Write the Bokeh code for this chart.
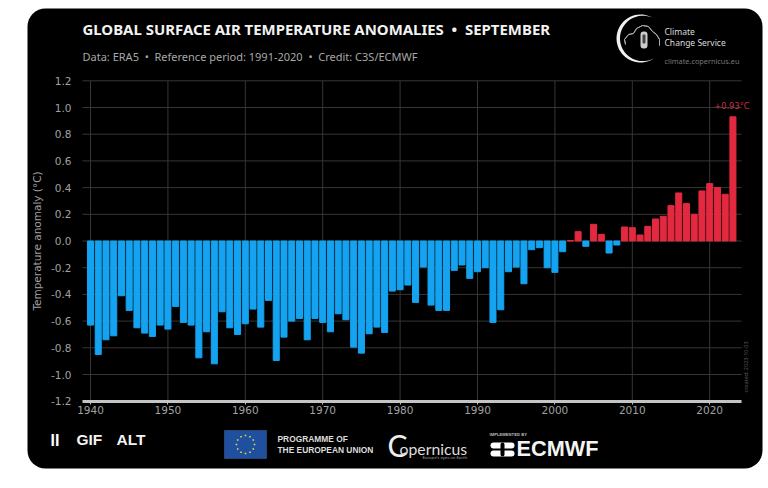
import math
from bokeh.embed import file_html
from bokeh.models import BoxAnnotation, ColumnDataSource, FixedTicker, Label, LinearAxis, NumeralTickFormatter, PolyAnnotation, Range1d
from bokeh.plotting import figure
from bokeh.resources import INLINE

years = list(range(1940, 2024))
anomalies = [
    -0.63, -0.85, -0.74, -0.71, -0.41, -0.52, -0.65, -0.69, -0.715, -0.63,
    -0.66, -0.49, -0.61, -0.63, -0.875, -0.68, -0.92, -0.53, -0.65, -0.70,
    -0.62, -0.51, -0.645, -0.445, -0.895, -0.72, -0.60, -0.58, -0.74, -0.58,
    -0.61, -0.68, -0.545, -0.59, -0.795, -0.84, -0.695, -0.645, -0.685, -0.375,
    -0.365, -0.33, -0.46, -0.195, -0.48, -0.52, -0.52, -0.22, -0.18, -0.28,
    -0.23, -0.20, -0.61, -0.515, -0.23, -0.195, -0.32, -0.065, -0.05, -0.20,
    -0.235, -0.08, 0.003, 0.07, -0.04, 0.125, 0.05, -0.09, -0.03, 0.105,
    0.10, 0.045, 0.11, 0.165, 0.185, 0.265, 0.36, 0.28, 0.20, 0.375,
    0.43, 0.40, 0.35, 0.93,
]
x_ticks = [1940, 1950, 1960, 1970, 1980, 1990, 2000, 2010, 2020]
y_ticks = [-1.2, -1.0, -0.8, -0.6, -0.4, -0.2, 0.0, 0.2, 0.4, 0.6, 0.8, 1.0, 1.2]
BLUE, RED = "#14a3f0", "#e2293f"
colors = [RED if v >= 0 else BLUE for v in anomalies]

TITLE = "GLOBAL SURFACE AIR TEMPERATURE ANOMALIES\u00a0\u00a0•\u00a0\u00a0SEPTEMBER"
SUBTITLE = "Data: ERA5\u00a0\u00a0•\u00a0\u00a0Reference period: 1991-2020\u00a0\u00a0•\u00a0\u00a0Credit: C3S/ECMWF"

W, H = 763, 470
PX_1940, PX_PER_YEAR = 90.0, 7.74
PY_ZERO, PY_PER_UNIT = 240.5, 133.5
X_LO, X_HI = 1938.97, 2024.12   # plot area limits, in years


def to_year(px):
    return 1940 + (px - PX_1940) / PX_PER_YEAR


def to_value(py):
    return (PY_ZERO - py) / PY_PER_UNIT


def sx(px):
    return px


def sy(py):
    return H - py


p = figure(
    width=W, height=H, output_backend="svg", toolbar_location=None,
    x_range=Range1d(to_year(0), to_year(W)), y_range=Range1d(to_value(H), to_value(0)),
    x_axis_location=None, y_axis_location=None, min_border=0,
    background_fill_color="white", border_fill_color="white", outline_line_color=None,
)
p.grid.visible = False


def add_text(text, px, py, size, color="#dddddd", font="Noto Sans", style="normal", align="left", angle=0):
    p.add_layout(Label(
        x=sx(px), y=sy(py), x_units="screen", y_units="screen", text=text,
        text_font=font, text_font_size=f"{size}px", text_font_style=style, text_color=color,
        text_align=align, text_baseline="middle", angle=angle,
    ))


def add_box(l, r, t, b, fill, line=None, radius=0, level="annotation", lw=1):
    p.add_layout(BoxAnnotation(
        left=sx(l), right=sx(r), top=sy(t), bottom=sy(b),
        left_units="screen", right_units="screen", top_units="screen", bottom_units="screen",
        fill_color=fill, fill_alpha=1, line_color=line, line_width=lw, border_radius=radius, level=level,
    ))


def add_poly(pts, fill=None, line=None, lw=1):
    p.add_layout(PolyAnnotation(
        xs=[sx(a) for a, _ in pts], ys=[sy(b) for _, b in pts], xs_units="screen", ys_units="screen",
        fill_color=fill, fill_alpha=1 if fill else 0, line_color=line, line_alpha=1 if line else 0, line_width=lw,
    ))


def crescent(cx, cy, r, a0, a1, thick):
    outer, inner = [], []
    n = 40
    for i in range(n + 1):
        t = i / n
        a = math.radians(a0 + (a1 - a0) * t)
        w = thick * math.sin(math.pi * t)
        outer.append((cx + r * math.cos(a), cy - r * math.sin(a)))
        inner.append((cx + (r - w) * math.cos(a), cy - (r - w) * math.sin(a)))
    return outer + inner[::-1]


# card
add_box(27, 762, 8, 468, "black", radius=18, level="underlay")

# grid
GRID = "#363636"
p.segment(x0=x_ticks, x1=x_ticks, y0=y_ticks[0], y1=y_ticks[-1], line_color=GRID, line_width=1)
p.segment(x0=X_LO, x1=X_HI, y0=y_ticks, y1=y_ticks, line_color=GRID, line_width=1)

# bars
source = ColumnDataSource(dict(year=years, value=anomalies, color=colors))
p.vbar(x="year", top="value", bottom=0, width=0.78, color="color", source=source)

# axes
xaxis = LinearAxis(fixed_location=y_ticks[0], bounds=(X_LO, X_HI), ticker=FixedTicker(ticks=x_ticks))
yaxis = LinearAxis(fixed_location=X_LO, bounds=(y_ticks[0], y_ticks[-1]), ticker=FixedTicker(ticks=y_ticks),
                   formatter=NumeralTickFormatter(format="0.0"))
xaxis.axis_line_color = "#c4c4c4"
xaxis.axis_line_width = 3
xaxis.major_tick_line_color = "#c4c4c4"
xaxis.major_tick_in = 0
xaxis.major_tick_out = 3
xaxis.minor_tick_line_color = None
xaxis.major_label_standoff = 2
yaxis.axis_line_color = None
yaxis.major_tick_line_color = None
yaxis.minor_tick_line_color = None
yaxis.major_label_standoff = 5
yaxis.axis_label = "Temperature anomaly (°C)"
yaxis.axis_label_text_color = "#a0a0a0"
yaxis.axis_label_text_font = "DejaVu Sans"
yaxis.axis_label_text_font_style = "normal"
yaxis.axis_label_text_font_size = "10.5px"
yaxis.axis_label_standoff = 5
for ax in (xaxis, yaxis):
    ax.major_label_text_color = "#a0a0a0"
    ax.major_label_text_font = "DejaVu Sans"
    ax.major_label_text_font_size = "10.5px"
p.add_layout(xaxis, "below")
p.add_layout(yaxis, "left")

# value note
p.add_layout(Label(
    x=years[-1], y=anomalies[-1], text="+0.93°C", text_color="#c8323f",
    text_font="DejaVu Sans", text_font_size="8.3px", text_align="center",
    text_baseline="bottom", y_offset=6, x_offset=-1,
))

add_text(TITLE, 82, 28, 14.95, "#f2f2f2", style="bold")
add_text(SUBTITLE, 82, 56, 11, "#a8a8a8")
add_text("created: 2023-10-03", 745, 392, 5.5, "#5a5a5a", angle=math.pi / 2)

# Climate Change Service mark
add_poly(crescent(640, 38, 24, 60, 305, 3.5), fill="#f0f0f0")
cloud = [(625, 44), (624, 39), (628, 34), (633, 33), (636, 28), (642, 25), (648, 26),
         (652, 31), (656, 34), (659, 39), (659, 45)]
add_poly(cloud + cloud[::-1], line="#aaaaaa", lw=1)
add_box(640, 647, 31, 48, "#cccccc", radius=3)
add_box(642, 645, 34, 43, "#444444", radius=1)
add_text("Climate", 664, 31, 8.5, "#dddddd")
add_text("Change Service", 664, 42, 8.5, "#dddddd")
add_text("climate.copernicus.eu", 664, 60, 7.3, "#777777")

# footer controls
add_text("II", 50, 440, 16, "#ffffff", "Liberation Sans", "bold")
add_text("GIF", 76, 439, 15.5, "#f4f4f4", "Liberation Sans", "bold")
add_text("ALT", 116, 439, 15.5, "#f4f4f4", "Liberation Sans", "bold")

# EU flag
add_box(224, 266, 430, 458, "#1f4f9f", line="#6f8fc4")
for i in range(12):
    a = math.radians(30 * i)
    cx, cy = 245 + 9 * math.cos(a), 444 - 9 * math.sin(a)
    add_box(cx - 0.8, cx + 0.8, cy - 0.8, cy + 0.8, "#e8d84a")
add_text("PROGRAMME OF", 277, 438, 8.4, "#dddddd", "Liberation Sans", "bold")
add_text("THE EUROPEAN UNION", 277, 449, 8.4, "#dddddd", "Liberation Sans", "bold")

# Copernicus
add_text("C", 387, 444, 30, "#eeeeee", "Lato")
add_text("opernicus", 399, 448, 15.8, "#dddddd", "Lato")
add_text("Europe's eyes on Earth", 422, 457, 4.2, "#aaaaaa")

# ECMWF
add_text("IMPLEMENTED BY", 489, 434, 4.2, "#bbbbbb", "Liberation Sans", "bold")
add_box(490, 514, 442, 448, "#ffffff", radius=3)
add_box(490, 514, 450, 456, "#ffffff", radius=3)
add_box(500, 504, 442, 456, "black", radius=2)
add_text("ECMWF", 516, 448, 21.7, "#f4f4f4", "Liberation Sans", "bold")

open("out.html", "w").write(file_html(p, INLINE))
